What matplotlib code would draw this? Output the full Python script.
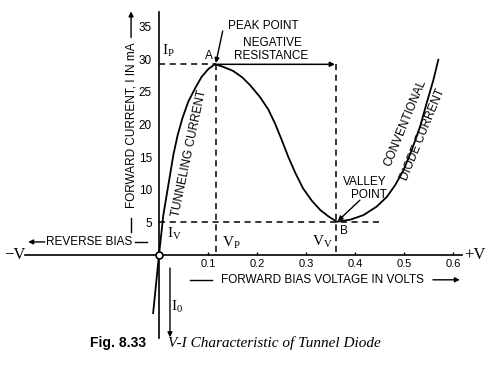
import numpy as np
import matplotlib
matplotlib.use("Agg")
import matplotlib.pyplot as plt

plt.rcParams['font.family'] = ['Liberation Sans', 'DejaVu Sans']
plt.rcParams['mathtext.fontset'] = 'custom'
plt.rcParams['mathtext.rm'] = 'Liberation Serif'
plt.rcParams['mathtext.it'] = 'Liberation Serif:italic'

# V-I curve (volts, mA)
volts = [-0.012, 0.0, 0.0088, 0.0157, 0.0224, 0.0292, 0.0382, 0.0476, 0.0598,
         0.0735, 0.0871, 0.101, 0.114, 0.128, 0.151, 0.170, 0.186, 0.206,
         0.223, 0.237, 0.250, 0.264, 0.278, 0.294, 0.312, 0.329, 0.346,
         0.363, 0.390, 0.417, 0.444, 0.465, 0.482, 0.499, 0.516, 0.533,
         0.546, 0.560, 0.570]
current = [-8.9, 0.0, 6.1, 9.2, 12.2, 15.3, 18.4, 20.9, 23.5,
           25.5, 27.3, 28.5, 29.2, 28.9, 28.2, 27.2, 26.0, 24.2,
           22.3, 20.1, 17.7, 15.0, 12.6, 10.2, 8.3, 6.9, 5.9,
           5.1, 5.4, 6.1, 7.4, 8.9, 10.7, 13.0, 16.1, 19.7,
           23.2, 26.8, 29.9]

peak_v, peak_i = 0.116, 29.2
valley_v, valley_i = 0.362, 5.1
iv_line_end = 0.45

xticks = [0.1, 0.2, 0.3, 0.4, 0.5, 0.6]
xtick_labels = ['0.1', '0.2', '0.3', '0.4', '0.5', '0.6']
yticks = [5, 10, 15, 20, 25, 30, 35]
ytick_labels = ['5', '10', '15', '20', '25', '30', '35']

fig = plt.figure(figsize=(4.97, 3.74), dpi=100)
ax = fig.add_axes([0, 0, 1, 1])
# 1 V = 490 px, 1 mA = 6.53 px, origin at px (159, 255)
ax.set_xlim(-159 / 490, (497 - 159) / 490)
ax.set_ylim(-(374 - 255) / 6.53, 255 / 6.53)

for s in ['top', 'right']:
    ax.spines[s].set_visible(False)
ax.spines['left'].set_position(('data', 0))
ax.spines['bottom'].set_position(('data', 0))
ax.spines['left'].set_bounds(-12.7, 37.2)
ax.spines['bottom'].set_bounds(-0.273, 0.618)
for s in ['left', 'bottom']:
    ax.spines[s].set_linewidth(1.2)

ax.set_xticks(xticks)
ax.set_xticklabels(xtick_labels)
ax.set_yticks(yticks)
ax.set_yticklabels(ytick_labels)
ax.tick_params(axis='x', direction='in', length=2, width=1, pad=3, labelsize=8)
ax.tick_params(axis='y', length=0, pad=5, labelsize=8.5)

dash = dict(color='black', lw=1.1, ls=(0, (4, 3)))
ax.plot([0, peak_v], [peak_i, peak_i], **dash)
ax.plot([peak_v, peak_v], [peak_i, 0], **dash)
ax.plot([valley_v, valley_v], [peak_i, 0], **dash)
ax.plot([0, iv_line_end], [valley_i, valley_i], **dash)

ax.annotate('', xy=(valley_v - 0.003, peak_i), xytext=(peak_v, peak_i),
            arrowprops=dict(arrowstyle='-|>', color='black', lw=1.1,
                            mutation_scale=7, shrinkA=0, shrinkB=0))

ax.plot(volts, current, color='black', lw=1.3, solid_joinstyle='round')
ax.plot([0], [0], 'o', ms=5, mfc='white', mec='black', mew=1.2, zorder=5)

fs = 8.5
ax.text(0.141, 35.1, 'PEAK POINT', fontsize=fs, ha='left', va='center')
ax.annotate('', xy=(peak_v, peak_i + 0.2), xytext=(0.130, 34.3),
            arrowprops=dict(arrowstyle='-|>', color='black', lw=1,
                            mutation_scale=7, shrinkA=0, shrinkB=0))
ax.text(0.110, 29.6, 'A', fontsize=fs, ha='right', va='bottom')
ax.text(0.231, 32.5, 'NEGATIVE', fontsize=fs, ha='center', va='center')
ax.text(0.229, 30.4, 'RESISTANCE', fontsize=fs, ha='center', va='center')
ax.text(0.006, 30.0, r'$\mathrm{I_P}$', fontsize=11, ha='left', va='bottom')

ax.text(-0.057, 19.9, 'FORWARD CURRENT, I IN mA', fontsize=fs, rotation=90,
        ha='center', va='center')
ax.annotate('', xy=(-0.057, 37.3), xytext=(-0.057, 33.3),
            arrowprops=dict(arrowstyle='-|>', color='black', lw=1,
                            mutation_scale=7, shrinkA=0, shrinkB=0))
ax.plot([-0.057, -0.057], [3.5, 5.7], color='black', lw=1)

ax.text(0.062, 15.6, 'TUNNELING CURRENT', fontsize=fs, rotation=78,
        ha='center', va='center', rotation_mode='anchor')
ax.text(0.502, 20.2, 'CONVENTIONAL', fontsize=fs, rotation=67.5,
        ha='center', va='center', rotation_mode='anchor')
ax.text(0.539, 18.4, 'DIODE CURRENT', fontsize=fs, rotation=67.5,
        ha='center', va='center', rotation_mode='anchor')

ax.text(0.420, 11.2, 'VALLEY', fontsize=fs, ha='center', va='center')
ax.text(0.429, 9.2, 'POINT', fontsize=fs, ha='center', va='center')
ax.annotate('', xy=(valley_v + 0.003, valley_i + 0.1), xytext=(0.410, 8.4),
            arrowprops=dict(arrowstyle='-|>', color='black', lw=1,
                            mutation_scale=7, shrinkA=0, shrinkB=0))
ax.text(0.370, 3.6, 'B', fontsize=fs, ha='left', va='center')

ax.text(0.016, 3.2, r'$\mathrm{I_V}$', fontsize=11, ha='left', va='center')
ax.text(0.128, 1.9, r'$\mathrm{V_P}$', fontsize=11, ha='left', va='center')
ax.text(0.355, 2.0, r'$\mathrm{V_V}$', fontsize=11, ha='right', va='center')
ax.text(0.024, -8.0, r'$\mathrm{I_0}$', fontsize=11, ha='left', va='center')
ax.annotate('', xy=(0.0224, -12.6), xytext=(0.0224, -2.0),
            arrowprops=dict(arrowstyle='-|>', color='black', lw=1,
                            mutation_scale=7, shrinkA=0, shrinkB=0))

ax.text(-0.273, 0, '\u2212V', fontsize=12, family='Liberation Serif',
        ha='right', va='center')
ax.text(0.622, 0, '+V', fontsize=12, family='Liberation Serif',
        ha='left', va='center')

ax.text(-0.143, 2.0, 'REVERSE BIAS', fontsize=fs, ha='center', va='center')
ax.annotate('', xy=(-0.267, 2.0), xytext=(-0.233, 2.0),
            arrowprops=dict(arrowstyle='-|>', color='black', lw=1,
                            mutation_scale=7, shrinkA=0, shrinkB=0))
ax.plot([-0.049, -0.0245], [2.0, 2.0], color='black', lw=1)

ax.text(0.333, -3.8, 'FORWARD BIAS VOLTAGE IN VOLTS', fontsize=fs,
        ha='center', va='center')
ax.plot([0.063, 0.108], [-3.8, -3.8], color='black', lw=1)
ax.annotate('', xy=(0.614, -3.8), xytext=(0.559, -3.8),
            arrowprops=dict(arrowstyle='-|>', color='black', lw=1,
                            mutation_scale=7, shrinkA=0, shrinkB=0))

fig.text(90 / 497, 1 - 343 / 374, 'Fig. 8.33', fontsize=10, fontweight='bold',
         ha='left', va='center')
fig.text(168 / 497, 1 - 343 / 374, 'V-I Characteristic of Tunnel Diode',
         fontsize=11, style='italic', family='Liberation Serif',
         ha='left', va='center')

fig.savefig('out.png', dpi=100)
